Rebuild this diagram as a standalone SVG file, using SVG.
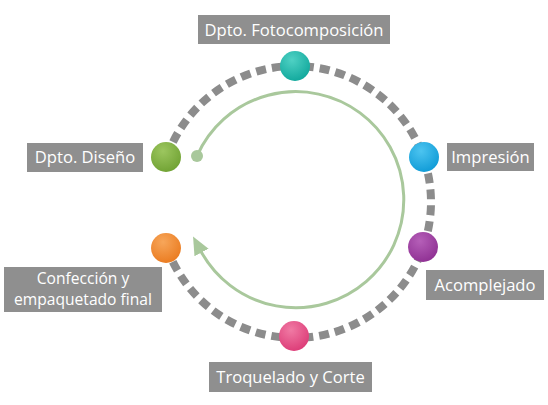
<svg xmlns="http://www.w3.org/2000/svg" width="548" height="405" viewBox="0 0 548 405">
<style>
.lbl{fill:#8f8f8f}
.t{font-family:"Open Sans","Noto Sans",sans-serif;font-size:16.6px;fill:#ffffff;text-anchor:middle}
.t2{font-size:15.6px}
.ring{fill:none;stroke:#8c8c8c;stroke-width:8;stroke-dasharray:10 6}
.flow{fill:none;stroke:#a9c89c;stroke-width:3}
</style>
<defs>
<radialGradient id="gTeal" cx="0.4" cy="0.3" r="0.75"><stop offset="0" stop-color="#4fd1c4"/><stop offset="1" stop-color="#0fa79b"/></radialGradient>
<radialGradient id="gBlue" cx="0.4" cy="0.3" r="0.75"><stop offset="0" stop-color="#4cc4f0"/><stop offset="1" stop-color="#0e9ad6"/></radialGradient>
<radialGradient id="gPurple" cx="0.4" cy="0.3" r="0.75"><stop offset="0" stop-color="#b55fb8"/><stop offset="1" stop-color="#8e2f92"/></radialGradient>
<radialGradient id="gPink" cx="0.4" cy="0.3" r="0.75"><stop offset="0" stop-color="#f07aa4"/><stop offset="1" stop-color="#dc3a76"/></radialGradient>
<radialGradient id="gOrange" cx="0.4" cy="0.3" r="0.75"><stop offset="0" stop-color="#f7a65a"/><stop offset="1" stop-color="#ea7a1e"/></radialGradient>
<radialGradient id="gGreen" cx="0.4" cy="0.3" r="0.75"><stop offset="0" stop-color="#9cc65f"/><stop offset="1" stop-color="#6fa132"/></radialGradient>
<marker id="arr" markerUnits="userSpaceOnUse" markerWidth="20" markerHeight="20" viewBox="0 0 20 20" refX="2" refY="10" orient="auto">
<path d="M0,2 L18,10 L0,18 Z" fill="#a9c89c"/>
</marker>
</defs>
<g id="connectors">
<path class="ring" d="M166.8,156.6 A136,136 0 1 1 166.8,247.4"/>
<path class="flow" d="M197,156 A108,108 0 1 1 200.6,250.7" marker-end="url(#arr)"/>
<circle cx="197" cy="156" r="6" fill="#a9c89c"/>
</g>
<g id="n1">
<circle cx="295" cy="66" r="15" fill="url(#gTeal)"/>
<rect class="lbl" x="198" y="15" width="192" height="29"/>
<text class="t" x="294" y="35.5">Dpto. Fotocomposición</text>
</g>
<g id="n2">
<circle cx="424" cy="157" r="15" fill="url(#gBlue)"/>
<rect class="lbl" x="447" y="143" width="87" height="28"/>
<text class="t" x="490.5" y="163">Impresión</text>
</g>
<g id="n3">
<circle cx="423" cy="247" r="15" fill="url(#gPurple)"/>
<rect class="lbl" x="426" y="270" width="118" height="30"/>
<text class="t" x="485" y="291">Acomplejado</text>
</g>
<g id="n4">
<circle cx="294" cy="336" r="15" fill="url(#gPink)"/>
<rect class="lbl" x="209" y="362" width="163" height="30"/>
<text class="t" x="290.5" y="383">Troquelado y Corte</text>
</g>
<g id="n5">
<circle cx="166" cy="248" r="15" fill="url(#gOrange)"/>
<rect class="lbl" x="4" y="267" width="158" height="45"/>
<text class="t t2" x="83" y="284">Confección y</text>
<text class="t t2" x="83" y="305">empaquetado final</text>
</g>
<g id="n6">
<circle cx="166" cy="157" r="15" fill="url(#gGreen)"/>
<rect class="lbl" x="27" y="143" width="116" height="29"/>
<text class="t" x="85" y="163">Dpto. Diseño</text>
</g>
</svg>
